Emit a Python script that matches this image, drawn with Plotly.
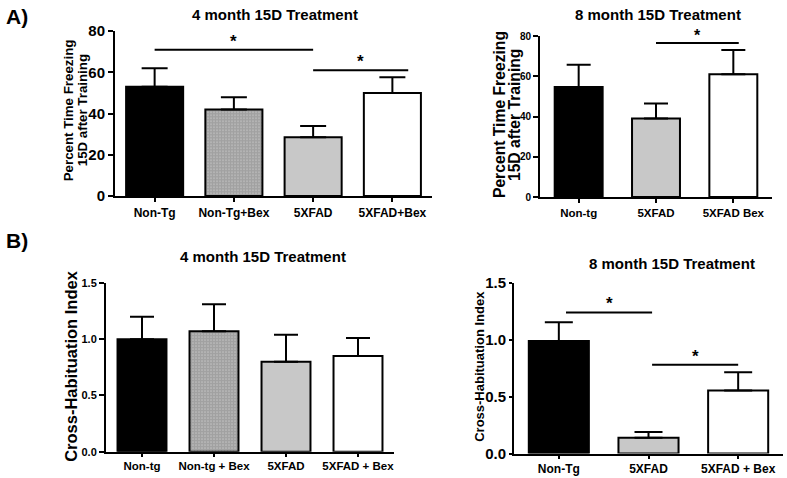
import plotly.graph_objects as go

# ---------------- data ----------------
a4_cats = ["Non-Tg", "Non-Tg+Bex", "5XFAD", "5XFAD+Bex"]
a4_vals = [53, 42, 28.5, 50]
a4_err = [9, 6, 5.5, 7.7]
a4_sig_from = [0, 2]
a4_sig_to = [2, 3.2]
a4_sig_y = [71, 61]

a8_cats = ["Non-tg", "5XFAD", "5XFAD Bex"]
a8_vals = [54.7, 39, 61]
a8_err = [11, 7.5, 12]
a8_sig_from = [1]
a8_sig_to = [2.07]
a8_sig_y = [76.5]

b4_cats = ["Non-tg", "Non-tg + Bex", "5XFAD", "5XFAD + Bex"]
b4_vals = [1.0, 1.07, 0.80, 0.85]
b4_err = [0.2, 0.24, 0.24, 0.16]

b8_cats = ["Non-Tg", "5XFAD", "5XFAD + Bex"]
b8_vals = [0.99, 0.14, 0.555]
b8_err = [0.165, 0.05, 0.16]
b8_sig_from = [0.08, 1.04]
b8_sig_to = [1.04, 2.0]
b8_sig_y = [1.24, 0.78]

FONT = "Liberation Sans, Arial, sans-serif"
GRAY = "#c8c8c8"

fig = go.Figure()


def add_panel(idx, cats, vals, errs, colors, patterns, xdom, ydom,
              yrange, ydtick, ytickfmt, tickfs, cattickfs, bar_w, cap_w,
              ylen=5, xlen=4):
    xa = "x" if idx == 1 else f"x{idx}"
    ya = "y" if idx == 1 else f"y{idx}"
    fig.add_trace(go.Bar(
        x=cats, y=vals, xaxis=xa, yaxis=ya, width=bar_w,
        marker=dict(color=colors, line=dict(color="black", width=2),
                    pattern=dict(shape=patterns, fgcolor="black",
                                 bgcolor="white", size=3, solidity=0.85,
                                 fillmode="overlay")),
        error_y=dict(type="data", symmetric=False, array=errs,
                     arrayminus=[0] * len(errs), color="black",
                     thickness=2, width=cap_w),
        showlegend=False, cliponaxis=False,
    ))
    key = "" if idx == 1 else str(idx)
    fig.update_layout(**{
        f"xaxis{key}": dict(domain=xdom, anchor=ya, range=[-0.5, len(cats) - 0.5],
                            showline=True, linecolor="black", linewidth=2,
                            ticks="outside", ticklen=xlen, tickwidth=2,
                            tickcolor="black", showgrid=False,
                            tickfont=dict(family=FONT, size=cattickfs,
                                          color="black", weight="bold")),
        f"yaxis{key}": dict(domain=ydom, anchor=xa, range=yrange, dtick=ydtick,
                            tickformat=ytickfmt,
                            showline=True, linecolor="black", linewidth=2,
                            ticks="outside", ticklen=ylen, tickwidth=2,
                            tickcolor="black", showgrid=False, zeroline=False,
                            tickfont=dict(family=FONT, size=tickfs,
                                          color="black", weight="bold")),
    })
    return xa, ya


def add_sig(xa, ya, froms, tos, ys, star_size):
    for f, t, y in zip(froms, tos, ys):
        fig.add_shape(type="line", xref=xa, yref=ya, x0=f, x1=t, y0=y, y1=y,
                      line=dict(color="black", width=2))
        fig.add_annotation(x=(f + t) / 2, y=y, xref=xa, yref=ya, text="*",
                           showarrow=False, yanchor="bottom", yshift=-3,
                           font=dict(family=FONT, size=star_size,
                                     color="black", weight="bold"))


W, H = 787, 478


def px_x(p):
    return p / W


def px_y(p):
    return 1 - p / H


# Panel A left
xa, ya = add_panel(1, a4_cats, a4_vals, a4_err,
                   ["black", "white", GRAY, "white"], ["", ".", "", ""],
                   [px_x(115), px_x(432)], [px_y(194), px_y(23)],
                   [0, 80], 20, "d", 15, 12, 0.72, 13)
add_sig(xa, ya, a4_sig_from, a4_sig_to, a4_sig_y, 17)

# Panel A right
xa, ya = add_panel(2, a8_cats, a8_vals, a8_err,
                   ["black", GRAY, "white"], ["", "", ""],
                   [px_x(540), px_x(772)], [px_y(195), px_y(28)],
                   [0, 80], 20, "d", 10, 11.5, 0.62, 12)
add_sig(xa, ya, a8_sig_from, a8_sig_to, a8_sig_y, 16)

# Panel B left
xa, ya = add_panel(3, b4_cats, b4_vals, b4_err,
                   ["black", "white", GRAY, "white"], ["", ".", "", ""],
                   [px_x(106), px_x(394)], [px_y(459), px_y(284)],
                   [0, 1.5], 0.5, ".1f", 11, 11.5, 0.68, 12, xlen=3)

# Panel B right
xa, ya = add_panel(4, b8_cats, b8_vals, b8_err,
                   ["black", GRAY, "white"], ["", "", ""],
                   [px_x(514), px_x(783)], [px_y(461), px_y(284)],
                   [0, 1.5], 0.5, ".1f", 15, 12, 0.67, 14, ylen=3, xlen=3)
add_sig(xa, ya, b8_sig_from, b8_sig_to, b8_sig_y, 17)


def txt(text, x, y, size, angle=0, xanchor="center", yanchor="middle"):
    fig.add_annotation(x=px_x(x), y=px_y(y), xref="paper", yref="paper",
                       text=text, showarrow=False, textangle=angle,
                       xanchor=xanchor, yanchor=yanchor,
                       font=dict(family=FONT, size=size, color="black",
                                 weight="bold"))


# panel letters
txt("A)", 4, 8, 21, xanchor="left")
txt("B)", 4, 240, 21, xanchor="left")
# titles
txt("4 month 15D Treatment", 275, 6, 15)
txt("8 month 15D Treatment", 658, 6, 15)
txt("4 month 15D Treatment", 263, 257, 15)
txt("8 month 15D Treatment", 672, 264, 15)
# y-axis titles
txt("Percent Time Freezing", 68, 105, 13.3, angle=-90)
txt("15D after Training", 82, 105, 13.3, angle=-90)
txt("Percent Time Freezing", 499, 110, 15.7, angle=-90)
txt("15D after Training", 514, 110, 15.7, angle=-90)
txt("Cross-Habituation Index", 71, 370, 16.5, angle=-90)
txt("Cross-Habituation Index", 480, 371, 13, angle=-90)

fig.update_layout(width=W, height=H, margin=dict(l=0, r=0, t=0, b=0),
                  paper_bgcolor="white", plot_bgcolor="white",
                  bargap=0.3)

fig.write_html(
    "out.html", config={"displayModeBar": False},
    post_script=(
        "var d=document.documentElement,b=document.body;"
        "d.style.margin='0';d.style.padding='0';d.style.overflow='hidden';"
        "b.style.margin='0';b.style.padding='0';b.style.overflow='hidden';"
    ),
)
